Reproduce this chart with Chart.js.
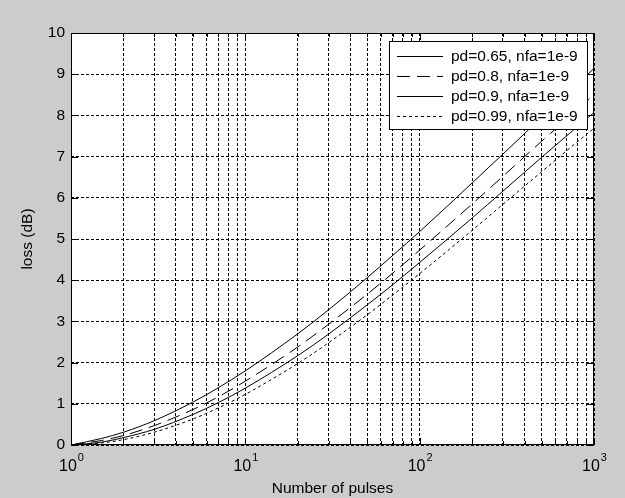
<!DOCTYPE html>
<html lang="en">
<head>
    <meta charset="UTF-8">
    <title>Integration loss vs number of pulses</title>
    <script src="https://cdn.jsdelivr.net/npm/chart.js"></script>
    <style>
        html, body { margin: 0; padding: 0; background: #cccccc; }
        canvas { display: block; }
    </style>
</head>
<body>
    <canvas id="lossChart" width="625" height="498"></canvas>

    <script>
        // values
        const pulses = [1, 1.5, 2, 3, 5, 7, 10, 20, 30, 50, 70, 100, 200, 300, 500, 700, 1000];
        const lossPd065 = [0, 0.16, 0.31, 0.59, 1.04, 1.39, 1.80, 2.70, 3.28, 4.06, 4.60, 5.18, 6.36, 7.06, 7.95, 8.53, 9.14];
        const lossPd080 = [0, 0.11, 0.23, 0.47, 0.86, 1.17, 1.55, 2.38, 2.93, 3.66, 4.17, 4.73, 5.85, 6.52, 7.37, 7.92, 8.50];
        const lossPd090 = [0, 0.07, 0.18, 0.38, 0.74, 1.03, 1.38, 2.17, 2.69, 3.40, 3.89, 4.43, 5.51, 6.16, 6.98, 7.51, 8.07];
        const lossPd099 = [0, 0.05, 0.13, 0.31, 0.63, 0.90, 1.23, 1.98, 2.48, 3.16, 3.64, 4.16, 5.21, 5.84, 6.63, 7.15, 7.69];
        const seriesLabels = ['pd=0.65, nfa=1e-9', 'pd=0.8, nfa=1e-9', 'pd=0.9, nfa=1e-9', 'pd=0.99, nfa=1e-9'];

        const xGridValues = [1, 2, 3, 4, 5, 6, 7, 8, 9, 10, 20, 30, 40, 50, 60, 70, 80, 90,
                             100, 200, 300, 400, 500, 600, 700, 800, 900, 1000];
        const xMajorValues = [1, 10, 100, 1000];
        const xMajorExponents = ['0', '1', '2', '3'];

        const FONT = '"Liberation Sans", Arial, sans-serif';
        const FONT_SIZE = 15.5;

        function points(ys) {
            return pulses.map((n, i) => ({ x: n, y: ys[i] }));
        }

        // gray figure, white axes
        const matlabBackground = {
            id: 'matlabBackground',
            beforeDraw(chart) {
                const { ctx, chartArea: a } = chart;
                ctx.save();
                ctx.fillStyle = '#cccccc';
                ctx.fillRect(0, 0, chart.width, chart.height);
                ctx.fillStyle = '#ffffff';
                ctx.fillRect(a.left, a.top, a.right - a.left, a.bottom - a.top);
                ctx.restore();
            }
        };

        // legend box inside the axes, drawn over the curves
        const boxLegend = {
            id: 'boxLegend',
            afterDatasetsDraw(chart) {
                const ctx = chart.ctx;
                const bx = 389.5, by = 41.5, bw = 198, bh = 88;
                ctx.save();
                ctx.fillStyle = '#ffffff';
                ctx.fillRect(bx, by, bw, bh);
                ctx.strokeStyle = '#000';
                ctx.lineWidth = 1;
                ctx.strokeRect(bx, by, bw, bh);
                ctx.font = FONT_SIZE + 'px ' + FONT;
                ctx.textBaseline = 'middle';
                ctx.fillStyle = '#000';
                chart.data.datasets.forEach((ds, i) => {
                    const y = 56 + i * 20 + 0.5;
                    ctx.setLineDash(ds.borderDash || []);
                    ctx.beginPath();
                    ctx.moveTo(397, y);
                    ctx.lineTo(443, y);
                    ctx.stroke();
                    ctx.setLineDash([]);
                    ctx.fillText(ds.label, 451, y);
                });
                ctx.restore();
            }
        };

        // axes box, inward ticks and 10^n labels
        const axesFrame = {
            id: 'axesFrame',
            afterDraw(chart) {
                const { ctx, chartArea: a } = chart;
                const xs = chart.scales.x, ys = chart.scales.y;
                ctx.save();
                ctx.strokeStyle = '#000';
                ctx.lineWidth = 1;
                ctx.setLineDash([]);
                ctx.strokeRect(a.left + 0.5, a.top + 0.5, a.right - a.left - 1, a.bottom - a.top - 1);

                ctx.beginPath();
                xGridValues.forEach(v => {
                    const px = Math.round(xs.getPixelForValue(v)) + 0.5;
                    const len = xMajorValues.includes(v) ? 7 : 4;
                    ctx.moveTo(px, a.bottom); ctx.lineTo(px, a.bottom - len);
                    ctx.moveTo(px, a.top); ctx.lineTo(px, a.top + len);
                });
                ys.ticks.forEach(t => {
                    const py = Math.round(ys.getPixelForValue(t.value)) + 0.5;
                    ctx.moveTo(a.left, py); ctx.lineTo(a.left + 7, py);
                    ctx.moveTo(a.right, py); ctx.lineTo(a.right - 7, py);
                });
                ctx.stroke();

                ctx.fillStyle = '#000';
                ctx.textBaseline = 'alphabetic';
                ctx.textAlign = 'left';
                xMajorValues.forEach((v, i) => {
                    const px = xs.getPixelForValue(v);
                    ctx.font = '16px ' + FONT;
                    const wBase = ctx.measureText('10').width;
                    ctx.font = '11px ' + FONT;
                    const wExp = ctx.measureText(xMajorExponents[i]).width;
                    const start = px - (wBase + wExp) / 2;
                    ctx.font = '16px ' + FONT;
                    ctx.fillText('10', start, 471);
                    ctx.font = '11px ' + FONT;
                    ctx.fillText(xMajorExponents[i], start + wBase + 1, 461);
                });
                ctx.restore();
            }
        };

        const ctx = document.getElementById('lossChart').getContext('2d');
        const lossChart = new Chart(ctx, {
            type: 'line',
            data: {
                datasets: [{
                    label: seriesLabels[0],
                    data: points(lossPd065),
                    borderDash: []
                }, {
                    label: seriesLabels[1],
                    data: points(lossPd080),
                    borderDash: [13, 7]
                }, {
                    label: seriesLabels[2],
                    data: points(lossPd090),
                    borderDash: []
                }, {
                    label: seriesLabels[3],
                    data: points(lossPd099),
                    borderDash: [3, 3]
                }]
            },
            options: {
                responsive: false,
                animation: false,
                layout: { padding: { top: 33, right: 31, left: 0, bottom: 0 } },
                elements: {
                    line: { borderColor: '#000', borderWidth: 1, cubicInterpolationMode: 'monotone' },
                    point: { radius: 0 }
                },
                scales: {
                    x: {
                        type: 'logarithmic',
                        min: 1,
                        max: 1000,
                        afterBuildTicks(scale) {
                            scale.ticks = xGridValues.map(v => ({ value: v }));
                        },
                        afterFit(scale) { scale.height = 53; },
                        ticks: { display: false },
                        grid: { color: '#000', lineWidth: 1, drawTicks: false },
                        border: { display: false, dash: [3, 2] },
                        title: {
                            display: true,
                            text: 'Number of pulses',
                            color: '#000',
                            font: { family: FONT, size: FONT_SIZE },
                            padding: { top: 0, bottom: 0 }
                        }
                    },
                    y: {
                        min: 0,
                        max: 10,
                        afterFit(scale) { scale.width = 71; },
                        ticks: {
                            stepSize: 1,
                            color: '#000',
                            padding: 6,
                            font: { family: FONT, size: FONT_SIZE }
                        },
                        grid: { color: '#000', lineWidth: 1, drawTicks: false },
                        border: { display: false, dash: [3, 2] },
                        title: {
                            display: true,
                            text: 'loss (dB)',
                            color: '#000',
                            font: { family: FONT, size: FONT_SIZE },
                            padding: { top: 18, bottom: 0 }
                        }
                    }
                },
                plugins: {
                    legend: { display: false },
                    tooltip: { enabled: false }
                }
            },
            plugins: [matlabBackground, boxLegend, axesFrame]
        });
    </script>
</body>
</html>
